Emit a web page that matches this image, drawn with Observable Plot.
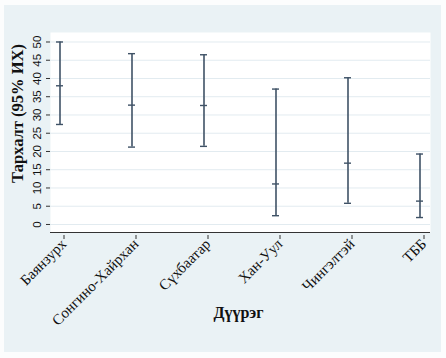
<!DOCTYPE html>
<html><head><meta charset="utf-8">
<script src="https://cdn.jsdelivr.net/npm/d3@7"></script>
<script src="https://cdn.jsdelivr.net/npm/@observablehq/plot@0.6"></script>
<style>
body{margin:0;background:#fcfdfd;}
#c{position:absolute;left:4px;top:5px;}
</style>
</head><body><div id="c"></div>
<script>
const districts = ["Баянзурх","Сонгино-Хайрхан","Сүхбаатар","Хан-Уул","Чингэлтэй","ТББ"];
const means = [38.0, 32.7, 32.6, 11.1, 16.8, 6.4];
const lower = [27.4, 21.2, 21.4, 2.4, 5.8, 1.9];
const upper = [50.0, 46.8, 46.5, 37.1, 40.2, 19.3];
const yTicks = [0, 5, 10, 15, 20, 25, 30, 35, 40, 45, 50];
const yTitle = "Тархалт (95% ИХ)";
const xTitle = "Дүүрэг";

const data = districts.map((d, i) => ({d, mean: means[i], lo: lower[i], hi: upper[i]}));
const yDomain = [-2.2, 52.6];
const lineColor = "#3f5266";
const serif = "Liberation Serif";

const chart = Plot.plot({
  width: 437, height: 347,
  marginLeft: 46, marginRight: 11, marginTop: 27, marginBottom: 120,
  style: {background: "#eaf2f5", fontFamily: "Liberation Sans", color: "#111"},
  x: {type: "band", domain: districts, paddingInner: 0.9, paddingOuter: 0.06, label: null},
  y: {domain: yDomain, label: null},
  marks: [
    Plot.frame({fill: "white", stroke: null}),
    Plot.gridY(yTicks, {stroke: "#e2ebf0", strokeOpacity: 1, strokeWidth: 1}),
    Plot.ruleX(data, {x: "d", y1: "lo", y2: "hi", stroke: lineColor, strokeWidth: 1.6}),
    Plot.tickY(data, {x: "d", y: "lo", stroke: lineColor, strokeWidth: 1.4}),
    Plot.tickY(data, {x: "d", y: "mean", stroke: lineColor, strokeWidth: 1.4}),
    Plot.tickY(data, {x: "d", y: "hi", stroke: lineColor, strokeWidth: 1.4}),
    Plot.ruleY([yDomain[0]], {stroke: "#333", strokeWidth: 1}),
    Plot.ruleX([districts[0]], {x: () => null, stroke: "#333", strokeWidth: 1, frameAnchor: "left"}),
    Plot.axisY({ticks: yTicks, tickSize: 4, tickRotate: -90, textAnchor: "middle", label: null, fontSize: 11.5, stroke: "#333", tickPadding: 6}),
    Plot.axisX({tickSize: 4, tickRotate: -45, textAnchor: "end", label: null, fontSize: 15, fontFamily: serif, stroke: "#333", tickPadding: 2, dx: 4, dy: 3}),
    Plot.text([yTitle], {frameAnchor: "left", textAnchor: "middle", lineAnchor: "middle", rotate: -90, dx: -33, dy: -19, fontSize: 16.5, fontWeight: "bold", fontFamily: serif, fill: "#111"}),
    Plot.text([xTitle], {frameAnchor: "bottom", textAnchor: "middle", lineAnchor: "middle", dy: 80, dx: -2, fontSize: 16, fontWeight: "bold", fontFamily: serif, fill: "#111"})
  ]
});
document.getElementById("c").appendChild(chart);
</script>
</body></html>
